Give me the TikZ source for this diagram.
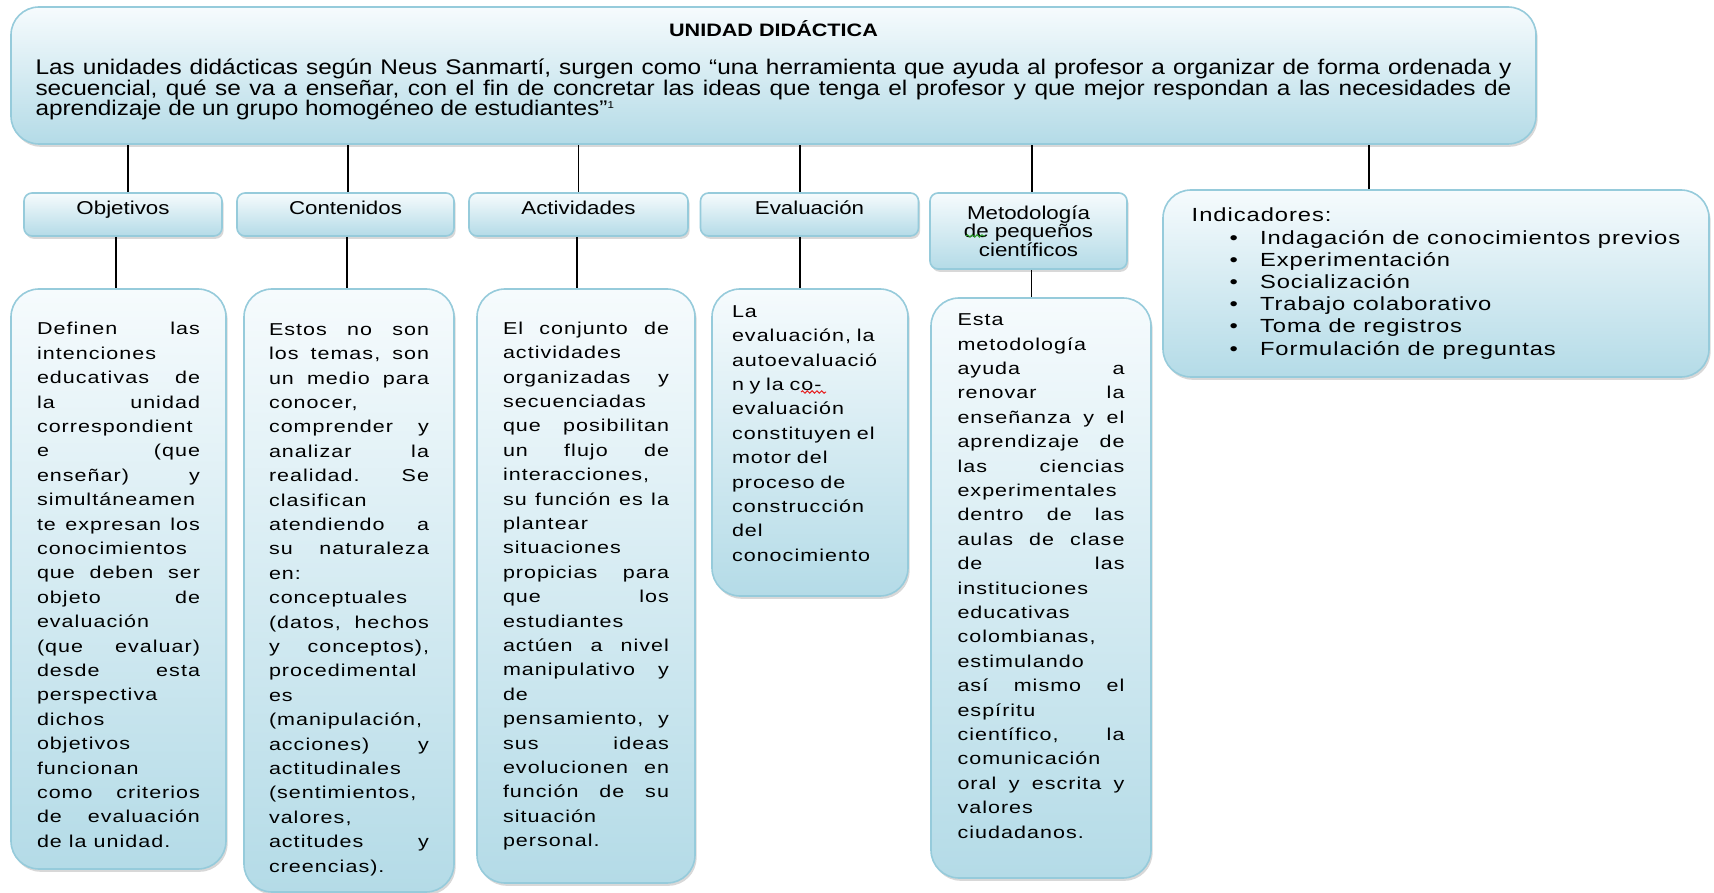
\documentclass[tikz,border=0pt]{standalone}
\usepackage{fontspec}
\usepackage{xcolor}
\usepackage{tikz}
\usetikzlibrary{shadows,decorations.pathmorphing}

\newfontfamily\plainsans[FakeStretch=1.15]{Liberation Sans}
\newfontfamily\headsans[FakeStretch=1.2]{Liberation Sans}
\newfontfamily\widesans[FakeStretch=1.25,LetterSpace=6]{Liberation Sans}
\newfontfamily\listsans[FakeStretch=1.25,LetterSpace=5]{Liberation Sans}

\definecolor{cardtop}{RGB}{246,251,253}
\definecolor{cardblue}{RGB}{180,219,231}
\definecolor{cardline}{RGB}{150,203,219}
\definecolor{spellred}{RGB}{230,30,30}
\definecolor{spellgreen}{RGB}{40,160,40}

\newcommand{\padbottom}[1]{\par\nointerlineskip\vbox to #1{\vss}}
\newcommand{\bul}{\hspace*{19pt}\textbullet\hspace*{11pt}}

\tolerance=10000
\hbadness=10000
\vbadness=10000
\hyphenpenalty=10000
\frenchspacing

\begin{document}
\begin{tikzpicture}[x=0.5pt, y=-0.5pt,
    card/.style={draw=cardline, line width=0.8pt, rounded corners=14pt,
        top color=cardtop, bottom color=cardblue,
        drop shadow={shadow xshift=0.8pt, shadow yshift=-1.4pt, opacity=0.3},
        inner sep=0pt},
    tab/.style={card, rounded corners=4pt, align=center,
        font=\headsans\fontsize{9.3}{9.3}\selectfont},
    tabline/.style={tab, text height=8pt, text depth=8pt},
    detail/.style={card, align=justify,
        font=\widesans\fontsize{8.6}{12.2}\selectfont},
    link/.style={line width=0.8pt, black},
    squiggle/.style={line width=0.5pt, decorate,
        decoration={snake, amplitude=0.6pt, segment length=2.4pt}}]

    % Frame
    \path[use as bounding box, fill=white] (0,0) rectangle (1714,893);

    % Top box
    \node[card, minimum width=762.5pt, minimum height=68.5pt, text width=738pt,
        align=justify, font=\plainsans\fontsize{10.6}{10.4}\selectfont]
        (unidad) at (773.5,75.5)
        {{\centering\headsans\bfseries\fontsize{9}{10.5}\selectfont UNIDAD DIDÁCTICA\par}\vspace{8.5pt}Las unidades didácticas según Neus Sanmartí, surgen como “una herramienta que ayuda al profesor a organizar de forma ordenada y\linebreak
        secuencial, qué se va a enseñar, con el fin de concretar las ideas que tenga el profesor y que mejor respondan a las necesidades de\linebreak
        aprendizaje de un grupo homogéneo de estudiantes”{\fontsize{5}{5}\selectfont\raisebox{3.5pt}{1}}\padbottom{5pt}};

    % Headings
    \node[tabline, minimum width=99pt, minimum height=21.5pt] (obj) at (123,214.5) {Objetivos};
    \node[tabline, minimum width=108.5pt, minimum height=21.5pt] (con) at (345.5,214.5) {Contenidos};
    \node[tabline, minimum width=109.5pt, minimum height=21.5pt] (act) at (578.5,214.5) {Actividades};
    \node[tabline, minimum width=109pt, minimum height=21.5pt] (eva) at (809.5,214.5) {Evaluación};
    \node[tab, minimum width=98.5pt, minimum height=38pt] (met) at (1028.5,231)
        {Metodología\\de pequeños\\científicos};

    % Indicators
    \node[card, minimum width=273pt, minimum height=93.5pt, align=left,
        font=\listsans\fontsize{9.5}{11.1}\selectfont] (ind) at (1436,283.5)
        {Indicadores:\\
        \bul Indagación de conocimientos previos\\
        \bul Experimentación\\
        \bul Socialización\\
        \bul Trabajo colaborativo\\
        \bul Toma de registros\\
        \bul Formulación de preguntas};

    % Detail boxes
    \node[detail, minimum width=107.5pt, minimum height=290pt, text width=81.5pt]
        (objd) at (118.5,579)
        {Definen las\linebreak intenciones\linebreak educativas de\linebreak la unidad\linebreak
        correspondient\linebreak e (que\linebreak enseñar) y\linebreak simultáneamen\linebreak
        te expresan los\linebreak conocimientos\linebreak que deben ser\linebreak objeto de\linebreak
        evaluación\linebreak (que evaluar)\linebreak desde esta\linebreak perspectiva\linebreak
        dichos\linebreak objetivos\linebreak funcionan\linebreak como criterios\linebreak
        de evaluación\linebreak de la unidad.\padbottom{-6pt}};
    \node[detail, minimum width=105pt, minimum height=301.5pt, text width=80pt]
        (cond) at (349,590.5)
        {Estos no son\linebreak los temas, son\linebreak un medio para\linebreak conocer,\linebreak
        comprender y\linebreak analizar la\linebreak realidad. Se\linebreak clasifican\linebreak
        atendiendo a\linebreak su naturaleza\linebreak en:\linebreak conceptuales\linebreak
        (datos, hechos\linebreak y conceptos),\linebreak procedimental\linebreak es\linebreak
        (manipulación,\linebreak acciones) y\linebreak actitudinales\linebreak
        (sentimientos,\linebreak valores,\linebreak actitudes y\linebreak creencias).\padbottom{-9pt}};
    \node[detail, minimum width=109pt, minimum height=297pt, text width=83pt]
        (actd) at (586,586)
        {El conjunto de\linebreak actividades\linebreak organizadas y\linebreak secuenciadas\linebreak
        que posibilitan\linebreak un flujo de\linebreak interacciones,\linebreak su función es la\linebreak
        plantear\linebreak situaciones\linebreak propicias para\linebreak que los\linebreak
        estudiantes\linebreak actúen a nivel\linebreak manipulativo y\linebreak de\linebreak
        pensamiento, y\linebreak sus ideas\linebreak evolucionen en\linebreak función de su\linebreak
        situación\linebreak personal.};
    \node[detail, align=left, minimum width=98pt, minimum height=153.5pt, text width=78pt]
        (evad) at (810,442.5)
        {La\\ evaluación, la\\ autoevaluació\\ n y la co-\\ evaluación\\ constituyen el\\
        motor del\\ proceso de\\ construcción\\ del\\ conocimiento\padbottom{9pt}};
    \node[detail, minimum width=110pt, minimum height=290pt, text width=83.5pt]
        (metd) at (1041,588)
        {Esta\linebreak metodología\linebreak ayuda a\linebreak renovar la\linebreak
        enseñanza y el\linebreak aprendizaje de\linebreak las ciencias\linebreak experimentales\linebreak
        dentro de las\linebreak aulas de clase\linebreak de las\linebreak instituciones\linebreak
        educativas\linebreak colombianas,\linebreak estimulando\linebreak así mismo el\linebreak
        espíritu\linebreak científico, la\linebreak comunicación\linebreak oral y escrita y\linebreak
        valores\linebreak ciudadanos.\padbottom{12pt}};

    % Spelling marks
    \draw[squiggle, spellgreen] (966,236) -- (985,236);
    \draw[squiggle, spellred] (801,392) -- (826,392);

    % Links from the top box
    \draw[link] ([xshift=2.5pt]obj.north) -- ([xshift=2.5pt]obj.north |- unidad.south);
    \draw[link] ([xshift=1.25pt]con.north) -- ([xshift=1.25pt]con.north |- unidad.south);
    \draw[link] (act.north) -- (act.north |- unidad.south);
    \draw[link] ([xshift=-4.75pt]eva.north) -- ([xshift=-4.75pt]eva.north |- unidad.south);
    \draw[link] ([xshift=1.75pt]met.north) -- ([xshift=1.75pt]met.north |- unidad.south);
    \draw[link] ([xshift=-33.5pt]ind.north) -- ([xshift=-33.5pt]ind.north |- unidad.south);

    % Links to the detail boxes
    \draw[link] ([xshift=-3.5pt]obj.south) -- ([xshift=-3.5pt]obj.south |- objd.north);
    \draw[link] ([xshift=0.75pt]con.south) -- ([xshift=0.75pt]con.south |- cond.north);
    \draw[link] ([xshift=-0.75pt]act.south) -- ([xshift=-0.75pt]act.south |- actd.north);
    \draw[link] ([xshift=-4.75pt]eva.south) -- ([xshift=-4.75pt]eva.south |- evad.north);
    \draw[link] ([xshift=1.5pt]met.south) -- ([xshift=1.5pt]met.south |- metd.north);

\end{tikzpicture}
\end{document}
